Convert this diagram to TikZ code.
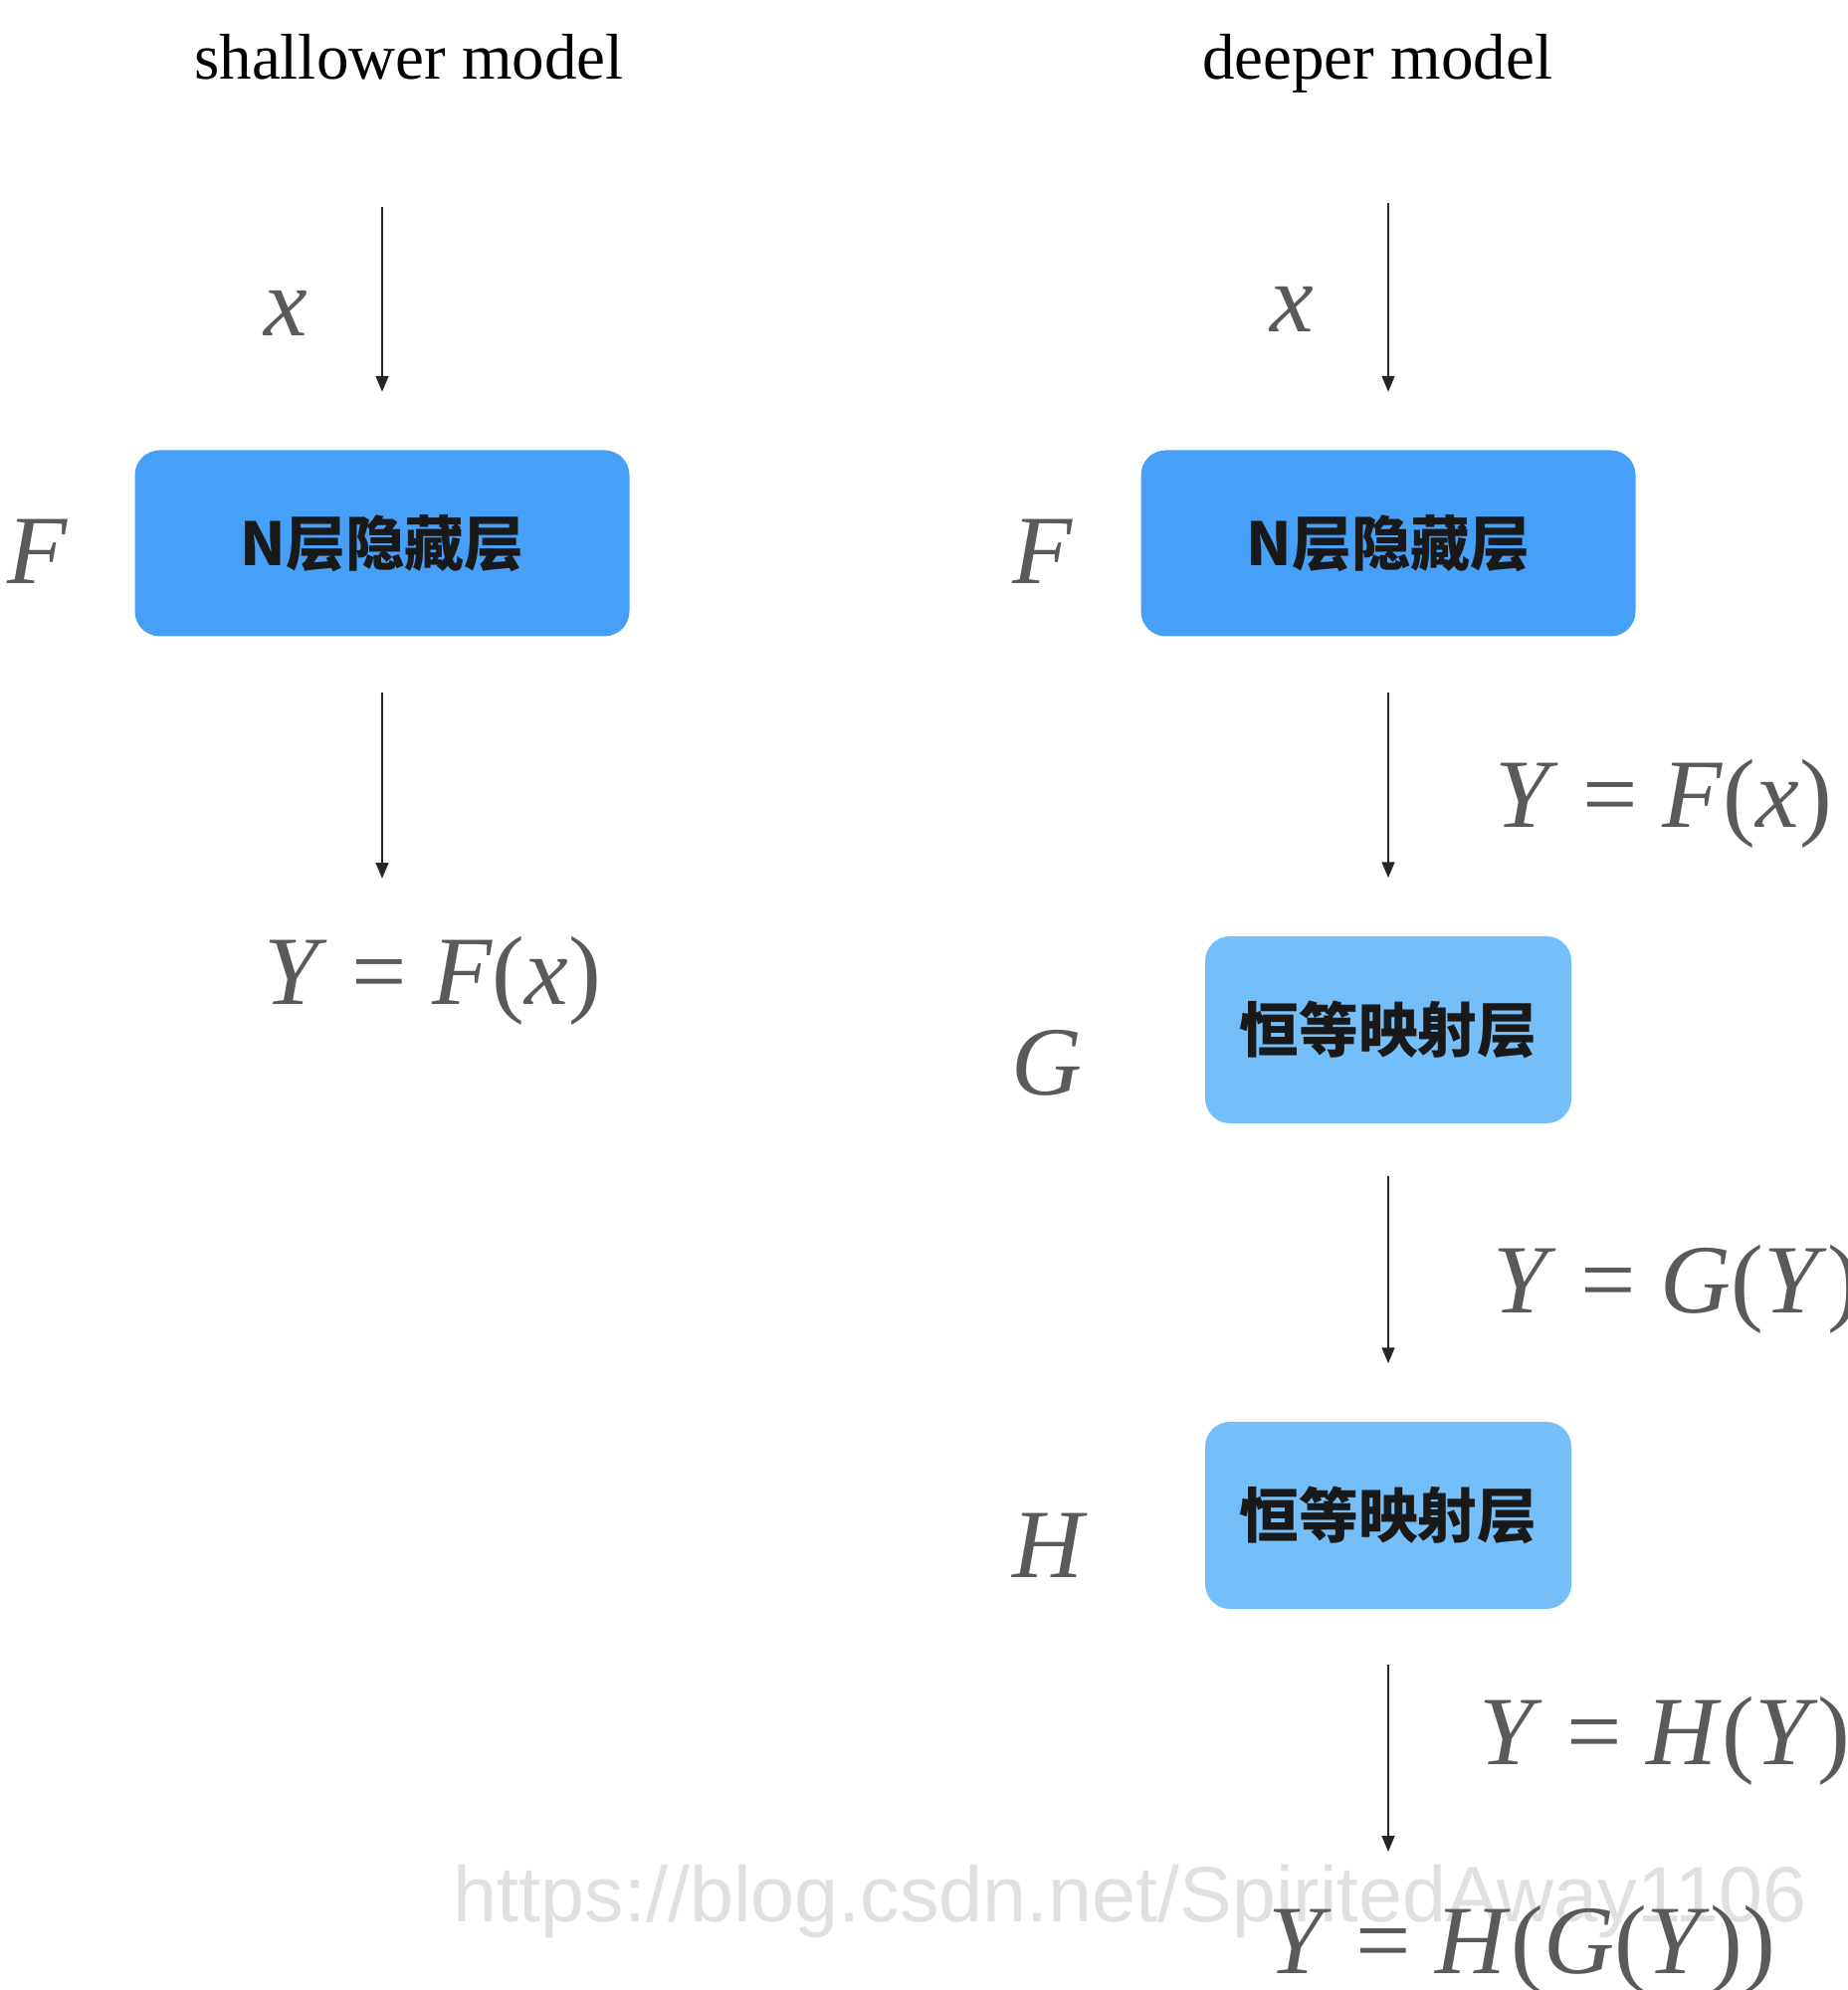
\documentclass[tikz,border=0pt]{standalone}
\usepackage{fontspec}
\setmainfont{Liberation Serif}
\newfontfamily\cjk{Noto Sans CJK SC}
\newfontfamily\wmfont{Liberation Sans}
\usepackage{tikz}
\usetikzlibrary{arrows.meta}
\definecolor{layerblue}{HTML}{47A0F7}
\definecolor{idblue}{HTML}{74BFF9}
\definecolor{vargray}{HTML}{5A5A5A}
\tikzset{
  layer/.style={fill=layerblue, rounded corners=0.25cm, minimum width=4.97cm, minimum height=1.87cm, text=black!90, font=\cjk\bfseries\fontsize{17}{20}\selectfont},
  idlayer/.style={layer, fill=idblue, minimum width=3.68cm, minimum height=1.88cm},
  flow/.style={-{Triangle[length=4.5pt,width=3.6pt]}, draw=black!85, line width=0.6pt},
  var/.style={text=vargray, inner sep=0pt, font=\fontsize{28}{34}\selectfont},
  title/.style={black, inner sep=0pt, font=\fontsize{18.5}{22}\selectfont},
  watermark/.style={text=black!12, inner sep=0pt, font=\wmfont\fontsize{22.5}{26}\selectfont}
}
\newcommand{\vi}[1]{\textit{#1}}

\begin{document}
\begin{tikzpicture}
  \useasboundingbox (0,0) rectangle (18.57,20);
  % shallower model
  \node[title, anchor=base] (tS) at (4.11,19.20) {shallower model};
  \coordinate (inS) at (3.84,17.92);
  \node[layer] (nS) at (3.84,14.54) {N层隐藏层};
  \coordinate (endS) at (3.84,11.17);
  \draw[flow, shorten >=0.58cm] (inS) -- (nS);
  \draw[flow, shorten <=0.56cm] (nS) -- (endS);
  \node[var, anchor=base] (xS) at (2.87,16.62) {\vi{x}};
  \node[var, anchor=base] (fS) at (0.38,14.13) {\vi{F}};
  \node[var, anchor=base] (yS) at (4.35,9.90) {\vi{Y} = \vi{F}(\vi{x})};
  % deeper model
  \node[title, anchor=base] (tD) at (13.84,19.20) {deeper model};
  \coordinate (inD) at (13.95,17.96);
  \node[layer] (nD) at (13.95,14.54) {N层隐藏层};
  \node[idlayer] (gD) at (13.95,9.65) {恒等映射层};
  \node[idlayer] (hD) at (13.95,4.77) {恒等映射层};
  \coordinate (endD) at (13.95,1.39);
  \draw[flow, shorten >=0.58cm] (inD) -- (nD);
  \draw[flow, shorten <=0.56cm, shorten >=0.58cm] (nD) -- (gD);
  \draw[flow, shorten <=0.52cm, shorten >=0.58cm] (gD) -- (hD);
  \draw[flow, shorten <=0.55cm] (hD) -- (endD);
  \node[var, anchor=base] (xD) at (12.98,16.66) {\vi{x}};
  \node[var, anchor=base] (fD) at (10.48,14.13) {\vi{F}};
  \node[var, anchor=base] (gL) at (10.52,8.99) {\vi{G}};
  \node[var, anchor=base] (hL) at (10.55,4.14) {\vi{H}};
  \node[var, anchor=base west] (yF) at (15.02,11.68) {\vi{Y} = \vi{F}(\vi{x})};
  \node[var, anchor=base west] (yG) at (15.00,6.80) {\vi{Y} = \vi{G}(\vi{Y})};
  \node[var, anchor=base west] (yH) at (14.86,2.26) {\vi{Y} = \vi{H}(\vi{Y})};
  \node[watermark, anchor=base west] (wm) at (4.55,0.68) {https://blog.csdn.net/SpiritedAway1106};
  \node[var, anchor=base west] (yHG) at (12.74,0.16) {\vi{Y} = \vi{H}(\vi{G}(\vi{Y}))};
\end{tikzpicture}
\end{document}
